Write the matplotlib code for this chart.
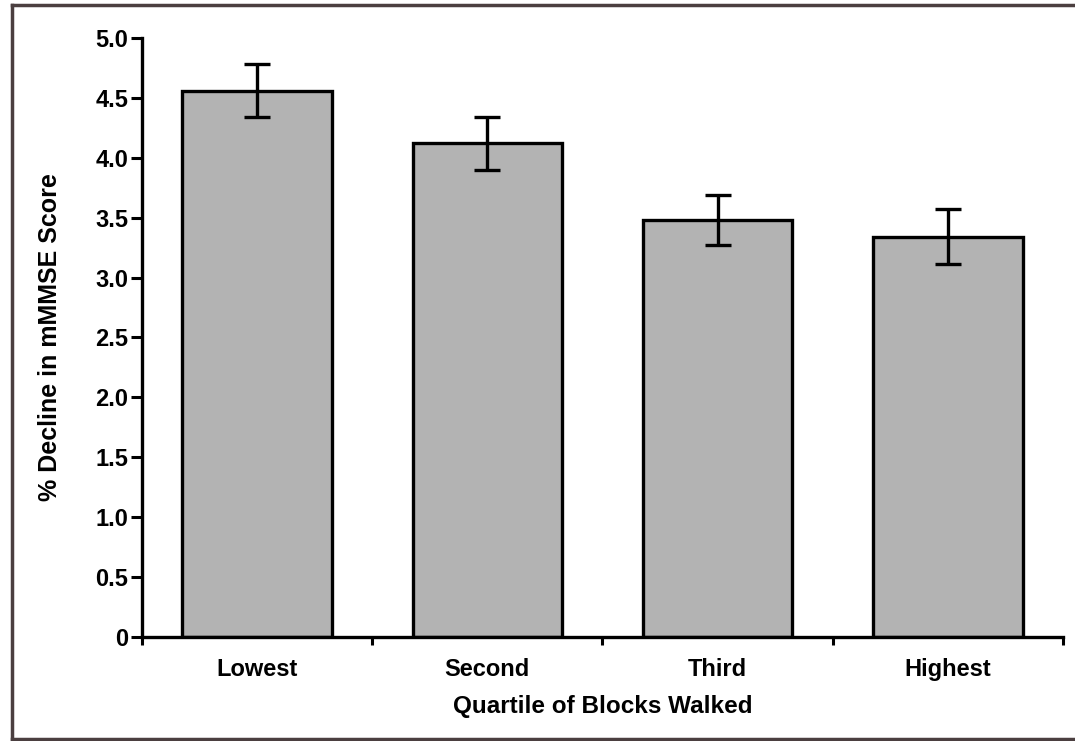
import matplotlib
matplotlib.use("Agg")
import matplotlib.pyplot as plt
from matplotlib.lines import Line2D
from matplotlib.ticker import FixedLocator

# values
quartiles = ["Lowest", "Second", "Third", "Highest"]
decline = [4.56, 4.12, 3.48, 3.34]
sem = [0.22, 0.22, 0.21, 0.23]
y_ticks = [0, 0.5, 1.0, 1.5, 2.0, 2.5, 3.0, 3.5, 4.0, 4.5, 5.0]
y_tick_labels = ["0", "0.5", "1.0", "1.5", "2.0", "2.5", "3.0", "3.5", "4.0", "4.5", "5.0"]

plt.rcParams['font.family'] = ['Liberation Sans Narrow', 'Liberation Sans', 'DejaVu Sans']
plt.rcParams['font.weight'] = 'bold'

fig = plt.figure(figsize=(10.75, 7.41), dpi=100)
ax = fig.add_axes([0.1321, 0.1404, 0.8567, 0.8083])

x = range(len(quartiles))
ax.bar(x, decline, width=0.65, color="#b3b3b3", edgecolor="black", linewidth=2.4, zorder=2)
ax.errorbar(x, decline, yerr=sem, fmt="none", ecolor="black", elinewidth=2.4,
            capsize=9.5, capthick=2.4, zorder=3)

ax.set_xlim(-0.5, 3.5)
ax.set_ylim(0, 5.0)
ax.set_yticks(y_ticks)
ax.set_yticklabels(y_tick_labels, fontsize=17, fontweight='bold')
ax.set_xticks(list(x))
ax.set_xticklabels(quartiles, fontsize=17, fontweight='bold')
ax.xaxis.set_minor_locator(FixedLocator([-0.5, 0.5, 1.5, 2.5, 3.5]))
ax.tick_params(axis='x', which='major', length=0, pad=15)
ax.tick_params(axis='x', which='minor', direction='out', length=6, width=2.2)
ax.tick_params(axis='y', direction='out', length=8, width=2.2, pad=2)

for side in ['top', 'right']:
    ax.spines[side].set_visible(False)
for side in ['left', 'bottom']:
    ax.spines[side].set_linewidth(2.4)

ax.set_xlabel("Quartile of Blocks Walked", fontsize=17.5, fontweight='bold', labelpad=10)
ax.set_ylabel("% Decline in mMMSE Score", fontsize=18, fontweight='bold', labelpad=24)

# outer frame (right side is cut off in the original)
frame_col = "#4b3f40"
fig.add_artist(Line2D([0.0112, 0.0112], [0.003, 0.9933], transform=fig.transFigure,
                      color=frame_col, linewidth=2.5))
fig.add_artist(Line2D([0.0112, 1.0], [0.9933, 0.9933], transform=fig.transFigure,
                      color=frame_col, linewidth=2.5))
fig.add_artist(Line2D([0.0112, 1.0], [0.003, 0.003], transform=fig.transFigure,
                      color=frame_col, linewidth=2.5))

fig.savefig("out.png", dpi=100)
